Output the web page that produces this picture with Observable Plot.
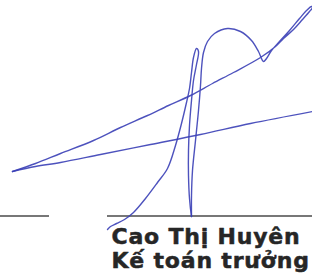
<!DOCTYPE html>
<html>
<head>
<meta charset="utf-8">
<script src="https://cdn.jsdelivr.net/npm/d3@7"></script>
<script src="https://cdn.jsdelivr.net/npm/@observablehq/plot@0.6"></script>
<style>
  html, body { margin: 0; padding: 0; background: #fff; }
  #chart svg { display: block; }
  #chart svg text { letter-spacing: 0.8px; }
</style>
</head>
<body>
<div id="chart"></div>
<script>
// Signature strokes (x, y in picture units, y downward)
const strokeHookSpike = [[107,229],[110,226],[116,223],[124,219],[133,212],[145,198],[157,182],[167,168],[175,145],[181,123],[186,102],[189,88],[191,72],[193,57],[196,48],[198,51],[196,64],[193,80],[191,100],[189,125],[188,150],[188,175],[189,198],[191,216]];
const strokeArch = [[191,216],[191,195],[192,170],[195,140],[198,110],[200,85],[201,68],[203,52],[207,41],[214,33],[227,28],[240,31],[251,40],[258,51],[263,61],[266,58],[271,50],[279,41],[289,30],[299,18],[306,10],[311,6],[312,7],[309,11],[302,19],[293,29],[283,38],[275,46],[260,57],[233,72],[212,83],[190,95],[168,105],[147,115],[120,127],[93,140],[60,153],[35,163],[12,171]];
const strokeLower = [[12,171],[35,166],[60,162],[100,154],[150,144],[200,134],[250,123],[312,111]];

const strokes = [
  {name: "hook", pts: strokeHookSpike},
  {name: "arch", pts: strokeArch},
  {name: "lower", pts: strokeLower}
];
const signature = strokes.flatMap(s => s.pts.map(([x, y]) => ({stroke: s.name, x, y})));

// Signature rules
const ruleSegments = [
  {x1: 0, x2: 49, y: 215.5},
  {x1: 107, x2: 312, y: 215.5}
];

// Text lines
const nameLines = ["Cao Thị Huyên", "Kế toán trưởng"];
const nameBaselines = [243, 267.5];
const textRows = nameLines.map((t, i) => ({text: t, y: nameBaselines[i]}));

const chart = Plot.plot({
  width: 312,
  height: 273,
  margin: 0,
  x: {domain: [0, 312], axis: null},
  y: {domain: [273, 0], axis: null},
  style: {background: "#fff"},
  marks: [
    Plot.ruleY(ruleSegments, {y: "y", x1: "x1", x2: "x2", stroke: "#4a4a4a", strokeWidth: 1.4}),
    Plot.line(signature, {x: "x", y: "y", z: "stroke", curve: "catmull-rom", stroke: "#3a3fb6", strokeWidth: 1.4, strokeOpacity: 0.9}),
    Plot.text(textRows, {x: () => 111, y: "y", text: "text", textAnchor: "start", lineAnchor: "bottom", fontSize: 22, fontWeight: "bold", fontFamily: "DejaVu Sans", fill: "#262626", stroke: "#262626", strokeWidth: 0.5})
  ]
});
document.getElementById("chart").appendChild(chart);
</script>
</body>
</html>
